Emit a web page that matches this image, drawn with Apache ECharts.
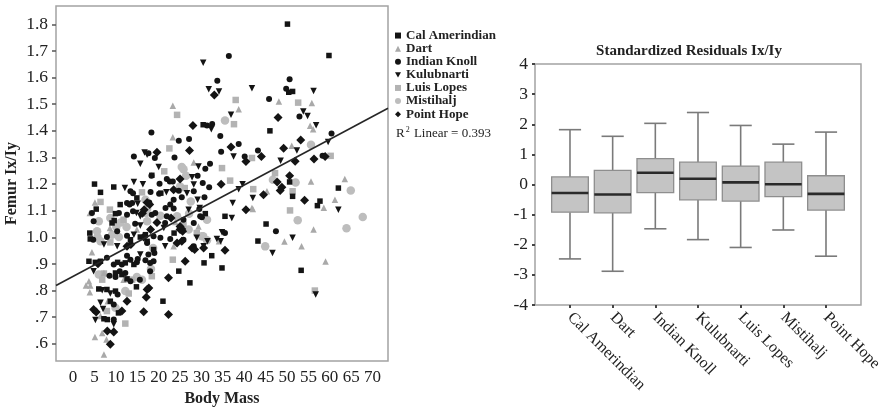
<!DOCTYPE html>
<html>
<head>
<meta charset="utf-8">
<script src="https://cdn.jsdelivr.net/npm/echarts@6/dist/echarts.min.js"></script>
<style>html,body{margin:0;padding:0;background:#fff}#chart{width:885px;height:412px}</style>
</head>
<body>
<div id="chart"></div>
<script>
// Population samples: [body mass, femur Ix/Iy]
const groups = ['Cal Amerindian', 'Dart', 'Indian Knoll', 'Kulubnarti', 'Luis Lopes', 'Mistihalj', 'Point Hope'];

const calAmerindian = [
  [50.1,1.801],[59.8,1.683],[50.4,1.545],[51.3,1.548],[46.0,1.400],[30.4,1.423],[50.6,1.208],[62.0,1.185],
  [57.7,1.136],[57.1,1.119],[45.1,1.050],[43.2,0.986],[53.3,0.876],[51.3,1.154],[35.5,1.079],[32.4,0.931],
  [30.6,0.904],[34.8,0.885],[30.9,1.089],[27.3,0.829],[24.7,0.873],[21.0,0.760],[14.8,0.814],[5.0,1.200],
  [9.5,1.189],[6.4,1.169],[14.9,1.148],[11.0,1.123],[5.4,1.106],[9.6,1.063],[9.9,1.089],[9.1,1.054],
  [3.9,1.016],[4.0,0.994],[13.4,0.991],[15.7,1.001],[16.9,1.010],[3.7,0.910],[5.2,0.906],[6.4,0.910],
  [10.4,0.906],[12.2,0.904],[14.2,0.898],[9.9,0.866],[11.4,0.860],[12.6,0.844],[7.9,0.804],[6.0,0.806],
  [9.9,0.798],[8.7,0.760],[8.0,0.691],[7.2,0.694],[10.6,0.716],[17.3,0.985],[18.8,0.954],[23.6,1.016],
  [18.4,1.233],[20.5,1.166]
];
const dart = [
  [48.1,1.510],[55.8,1.505],[38.7,1.481],[55.4,1.419],[56.1,1.406],[51.1,1.344],[55.6,1.210],[63.5,1.219],
  [58.6,1.111],[61.2,1.141],[56.2,1.029],[49.4,0.984],[53.4,0.966],[59.0,0.909],[41.8,1.110],[34.1,0.985],
  [45.3,1.173],[42.0,1.106],[23.3,1.494],[23.3,1.376],[28.2,1.281],[23.9,1.058],[23.5,0.966],[5.1,1.131],
  [8.6,1.035],[4.4,0.944],[3.7,0.835],[3.0,0.819],[4.0,0.819],[3.9,0.794],[5.1,0.626],[6.8,0.641],
  [7.8,0.616],[7.2,0.560],[9.5,0.654],[6.4,0.704],[8.1,0.760],[14.9,1.029],[29.3,1.041],[3.9,1.091],
  [7.2,0.866],[11.8,0.841]
];
const indianKnoll = [
  [36.4,1.681],[50.6,1.594],[33.7,1.588],[49.8,1.558],[45.8,1.520],[31.3,1.420],[32.5,1.426],[34.4,1.381],
  [38.7,1.351],[52.9,1.454],[60.4,1.390],[40.1,1.304],[43.2,1.326],[34.6,1.321],[32.0,1.276],[30.9,1.258],
  [30.3,1.204],[31.8,1.188],[58.3,1.306],[47.4,1.023],[18.3,1.394],[24.7,1.363],[27.1,1.369],[19.1,1.298],
  [23.7,1.300],[18.3,1.231],[21.9,1.219],[29.1,1.231],[20.2,1.201],[22.6,1.210],[23.3,1.210],[24.7,1.175],
  [18.1,1.170],[20.1,1.164],[28.2,1.173],[30.7,1.151],[25.4,1.151],[23.5,1.141],[17.8,1.131],[21.6,1.110],
  [22.7,1.123],[23.5,1.108],[29.5,1.106],[18.4,1.085],[19.2,1.091],[21.9,1.079],[25.8,1.066],[29.7,1.079],
  [30.1,1.075],[21.5,1.054],[28.2,1.054],[35.5,1.016],[18.8,1.004],[20.4,0.998],[22.7,0.994],[25.8,0.991],
  [17.3,0.979],[28.2,0.966],[14.2,1.304],[17.6,1.316],[13.4,1.173],[14.0,1.166],[12.6,1.129],[13.2,1.123],
  [13.8,1.129],[4.4,1.091],[4.8,1.060],[10.7,1.091],[12.6,1.085],[14.0,1.098],[10.3,1.023],[7.9,1.001],
  [12.6,1.006],[14.5,1.051],[4.7,0.991],[7.9,0.923],[9.5,0.898],[11.4,0.898],[13.4,0.916],[14.9,0.906],
  [12.6,0.931],[8.5,0.856],[9.9,0.851],[10.9,0.873],[12.2,0.866],[13.4,0.835],[9.5,0.748],[10.4,0.785],
  [16.9,0.914],[17.6,0.935],[18.0,0.904],[18.8,0.910],[15.1,0.919],[19.0,0.941],[18.0,0.873],[15.6,0.841],
  [9.5,0.691]
];
const kulubnarti = [
  [30.4,1.656],[31.7,1.556],[34.1,1.548],[41.8,1.560],[56.2,1.550],[36.9,1.460],[54.8,1.456],[53.8,1.473],
  [56.8,1.421],[59.6,1.358],[32.3,1.406],[37.5,1.304],[52.3,1.326],[48.5,1.288],[39.6,1.199],[38.7,1.181],
  [62.0,1.104],[51.3,0.998],[46.6,0.941],[56.7,0.785],[37.3,1.129],[34.8,1.019],[34.5,0.985],[31.4,0.985],
  [42.0,1.148],[16.7,1.319],[17.3,1.310],[29.3,1.266],[27.8,1.226],[28.2,1.198],[21.8,1.169],[26.6,1.166],
  [29.1,1.141],[27.0,1.104],[29.6,1.110],[21.2,1.035],[28.9,0.998],[33.6,0.994],[30.5,0.966],[15.7,1.276],
  [20.0,1.264],[12.1,1.185],[14.2,1.208],[16.3,1.199],[15.1,1.126],[15.7,1.079],[15.7,1.044],[14.8,1.091],
  [14.2,1.010],[7.2,0.973],[4.8,0.873],[6.8,0.801],[8.7,0.789],[6.4,0.754],[7.0,0.731],[5.2,0.689],
  [9.5,0.673],[15.7,0.935],[21.5,0.966],[37.1,1.073],[10.3,0.966]
];
const luisLopes = [
  [52.6,1.506],[38.0,1.516],[37.6,1.425],[41.8,1.298],[60.2,1.306],[34.8,1.260],[36.7,1.213],[42.1,1.181],
  [47.2,1.241],[51.3,1.173],[50.7,1.101],[56.5,0.800],[24.3,1.460],[22.5,1.334],[21.3,1.248],[26.1,1.185],
  [25.8,1.048],[16.1,1.169],[6.4,1.133],[8.6,1.104],[11.8,1.066],[7.2,0.864],[6.8,0.841],[8.7,0.981],
  [13.0,0.789],[7.9,0.723],[12.2,0.676],[13.8,0.841],[23.3,0.916],[18.4,0.854],[28.9,1.016]
];
const mistihalj = [
  [35.5,1.439],[55.6,1.348],[52.0,1.206],[64.9,1.176],[52.5,1.064],[67.7,1.076],[63.9,1.034],[44.9,0.966],
  [30.4,1.004],[46.7,1.216],[25.4,1.264],[25.8,1.256],[26.4,1.231],[25.0,1.191],[27.5,1.135],[16.9,1.141],
  [17.3,1.106],[24.3,1.079],[20.4,1.081],[27.1,1.089],[17.3,1.060],[31.3,1.066],[27.0,1.029],[30.1,1.004],
  [31.3,0.989],[18.7,0.960],[6.0,1.060],[8.7,1.073],[10.1,1.039],[11.1,1.056],[12.5,1.039],[17.1,1.091],
  [5.6,1.023],[5.7,1.001],[9.1,1.010],[10.7,1.001],[6.0,0.860],[12.2,0.798],[9.9,0.735],[6.4,0.985],
  [16.1,0.841],[14.9,0.851],[18.2,0.881]
];
const pointHope = [
  [33.0,1.535],[47.9,1.450],[28.0,1.420],[36.9,1.339],[40.4,1.285],[44.0,1.304],[49.2,1.335],[53.2,1.366],
  [51.9,1.286],[56.3,1.294],[58.9,1.304],[34.6,1.199],[44.5,1.160],[47.7,1.208],[48.8,1.188],[48.4,1.176],
  [50.6,1.231],[54.1,1.139],[40.4,1.104],[35.5,0.951],[30.5,0.960],[27.2,1.326],[19.6,1.320],[25.0,1.219],
  [23.5,1.179],[16.2,1.090],[16.6,1.104],[19.6,1.056],[22.9,1.073],[18.1,1.029],[25.0,1.041],[25.4,1.031],
  [16.5,1.001],[24.3,0.979],[25.4,0.985],[27.8,0.960],[28.4,0.954],[26.2,0.910],[22.3,0.848],[22.3,0.710],
  [17.3,0.804],[17.7,0.810],[17.1,0.775],[16.5,0.720],[12.6,0.760],[4.8,0.729],[5.4,0.719],[11.4,0.723],
  [8.0,0.648],[9.5,0.644],[8.7,0.598],[5.8,0.901],[13.5,0.973],[12.6,0.966],[17.3,1.131],[17.9,1.123],
  [25.0,1.029],[25.6,1.023]
];

// Linear fit across the plotted mass range
const fitLine = [[-4, 0.819], [73.6, 1.485]];
const rSquared = '0.393';

// Axis ticks
const massTicks = [0, 5, 10, 15, 20, 25, 30, 35, 40, 45, 50, 55, 60, 65, 70];
const ratioTicks = [0.6, 0.7, 0.8, 0.9, 1.0, 1.1, 1.2, 1.3, 1.4, 1.5, 1.6, 1.7, 1.8];
const groupTicks = [0, 1, 2, 3, 4, 5, 6];

// Standardized residual distributions per population
const residMin    = [-2.47, -2.88, -1.47, -1.83, -2.09, -1.51, -2.38];
const residQ1     = [-0.92, -0.94, -0.27, -0.51, -0.55, -0.40, -0.85];
const residMedian = [-0.28, -0.33,  0.39,  0.19,  0.07,  0.01, -0.31];
const residQ3     = [ 0.25,  0.47,  0.86,  0.74,  0.61,  0.74,  0.29];
const residMax    = [ 1.82,  1.60,  2.03,  2.39,  1.96,  1.34,  1.74];

const serif = '"Liberation Serif", "DejaVu Serif", serif';
const black = '#141414';

const markerStyles = {
  'Cal Amerindian': { symbol: 'rect', size: 5.5, color: black },
  'Dart': { symbol: 'triangle', size: 6.5, color: '#a9a9a9' },
  'Indian Knoll': { symbol: 'circle', size: 6, color: black },
  'Kulubnarti': { symbol: 'path://M0,0L10,0L5,9Z', size: 6.5, color: black },
  'Luis Lopes': { symbol: 'rect', size: 6.5, color: '#b3b3b3' },
  'Mistihalj': { symbol: 'circle', size: 8.5, color: '#bdbdbd' },
  'Point Hope': { symbol: 'diamond', size: 9, color: black }
};
const groupData = {
  'Cal Amerindian': calAmerindian, 'Dart': dart, 'Indian Knoll': indianKnoll, 'Kulubnarti': kulubnarti,
  'Luis Lopes': luisLopes, 'Mistihalj': mistihalj, 'Point Hope': pointHope
};
// grey groups underneath, black groups on top
const drawOrder = ['Mistihalj', 'Luis Lopes', 'Dart', 'Indian Knoll', 'Cal Amerindian', 'Kulubnarti', 'Point Hope'];

const scatterSeries = drawOrder.map(name => ({
  name,
  type: 'scatter',
  xAxisIndex: 0, yAxisIndex: 0,
  data: groupData[name],
  symbol: markerStyles[name].symbol,
  symbolSize: markerStyles[name].size,
  itemStyle: { color: markerStyles[name].color, opacity: 1 },
  silent: true
}));

const boxData = groupTicks.map(i => [i, residMin[i], residQ1[i], residMedian[i], residQ3[i], residMax[i]]);

function renderBox(params, api) {
  const i = api.value(0);
  const lo = api.coord([i, api.value(1)]);
  const q1 = api.coord([i, api.value(2)]);
  const md = api.coord([i, api.value(3)]);
  const q3 = api.coord([i, api.value(4)]);
  const hi = api.coord([i, api.value(5)]);
  const unit = api.size([1, 0])[0];
  const bw = unit * 0.86, cw = unit * 0.52;
  const x = lo[0];
  const whisker = { stroke: '#7a7a7a', lineWidth: 1.6 };
  return {
    type: 'group',
    children: [
      { type: 'line', shape: { x1: x, y1: hi[1], x2: x, y2: q3[1] }, style: whisker },
      { type: 'line', shape: { x1: x, y1: q1[1], x2: x, y2: lo[1] }, style: whisker },
      { type: 'line', shape: { x1: x - cw / 2, y1: hi[1], x2: x + cw / 2, y2: hi[1] }, style: whisker },
      { type: 'line', shape: { x1: x - cw / 2, y1: lo[1], x2: x + cw / 2, y2: lo[1] }, style: whisker },
      { type: 'rect', shape: { x: x - bw / 2, y: q3[1], width: bw, height: q1[1] - q3[1] },
        style: { fill: '#c4c4c4', stroke: '#8e8e8e', lineWidth: 1.3 } },
      { type: 'line', shape: { x1: x - bw / 2, y1: md[1], x2: x + bw / 2, y2: md[1] },
        style: { stroke: '#2a2a2a', lineWidth: 2.6 } }
    ]
  };
}

const chart = echarts.init(document.getElementById('chart'), null, { renderer: 'canvas' });
chart.setOption({
  animation: false,
  backgroundColor: '#fff',
  textStyle: { fontFamily: serif },
  grid: [
    { left: 56, top: 6, width: 332, height: 356, show: true, borderColor: '#a3a3a3', borderWidth: 1.5, containLabel: false },
    { left: 535, top: 64, width: 326, height: 241, show: true, borderColor: '#a3a3a3', borderWidth: 1.5, containLabel: false }
  ],
  xAxis: [
    {
      gridIndex: 0, type: 'value', min: -4, max: 73.6,
      name: 'Body Mass', nameLocation: 'middle', nameGap: 28,
      nameTextStyle: { fontFamily: serif, fontSize: 16, fontWeight: 'bold', color: '#222' },
      axisLine: { show: false, onZero: false }, axisTick: { show: false }, splitLine: { show: false },
      axisLabel: { customValues: massTicks, fontFamily: serif, fontSize: 17, color: '#222', margin: 8 }
    },
    {
      gridIndex: 1, type: 'value', min: -0.82, max: 6.82,
      axisLine: { show: false, onZero: false }, splitLine: { show: false },
      axisTick: { show: true, customValues: groupTicks, length: 3, lineStyle: { color: '#444', width: 2 } },
      axisLabel: {
        customValues: groupTicks, formatter: v => groups[v], rotate: -45,
        fontFamily: serif, fontSize: 16, color: '#222', margin: 10
      }
    }
  ],
  yAxis: [
    {
      gridIndex: 0, type: 'value', min: 0.535, max: 1.869,
      name: 'Femur Ix/Iy', nameLocation: 'middle', nameGap: 36, nameRotate: 90,
      nameTextStyle: { fontFamily: serif, fontSize: 16, fontWeight: 'bold', color: '#222' },
      axisLine: { show: false, onZero: false }, splitLine: { show: false },
      axisTick: { show: true, customValues: ratioTicks, length: 4, lineStyle: { color: '#555', width: 1.5 } },
      axisLabel: {
        customValues: ratioTicks,
        formatter: v => (v < 1 ? v.toFixed(1).slice(1) : v.toFixed(1)),
        fontFamily: serif, fontSize: 17.5, color: '#222', margin: 8
      }
    },
    {
      gridIndex: 1, type: 'value', min: -4, max: 4, interval: 1,
      axisLine: { show: false, onZero: false }, splitLine: { show: false },
      axisTick: { show: true, length: 3, lineStyle: { color: '#444', width: 2 } },
      axisLabel: { fontFamily: serif, fontSize: 17.5, color: '#222', margin: 7 }
    }
  ],
  legend: {
    data: groups, orient: 'vertical', left: 395, top: 29, padding: 0,
    itemWidth: 6, itemHeight: 6, itemGap: 0,
    textStyle: { fontFamily: serif, fontSize: 13, fontWeight: 'bold', color: '#222', lineHeight: 13.1 },
    selectedMode: false
  },
  graphic: [
    {
      type: 'text', left: 396, top: 126,
      style: {
        text: '{a|R}{s|2}{a| Linear = ' + rSquared + '}',
        rich: {
          a: { fontFamily: serif, fontSize: 13, fill: '#222' },
          s: { fontFamily: serif, fontSize: 8, fill: '#222', padding: [0, 1, 7, 1] }
        }
      }
    },
    {
      type: 'text', x: 689, y: 51,
      style: {
        text: 'Standardized Residuals Ix/Iy', fontFamily: serif, fontSize: 15, fontWeight: 'bold',
        fill: '#222', align: 'center', verticalAlign: 'middle'
      }
    }
  ],
  series: scatterSeries.concat([
    {
      name: 'Linear fit', type: 'line', xAxisIndex: 0, yAxisIndex: 0,
      data: fitLine, symbol: 'none', silent: true,
      lineStyle: { color: '#262626', width: 1.6 }, z: 5
    },
    {
      name: 'Residuals', type: 'custom', xAxisIndex: 1, yAxisIndex: 1,
      data: boxData, renderItem: renderBox, encode: { x: 0, y: [1, 2, 3, 4, 5] }, silent: true
    }
  ])
});
</script>
</body>
</html>
